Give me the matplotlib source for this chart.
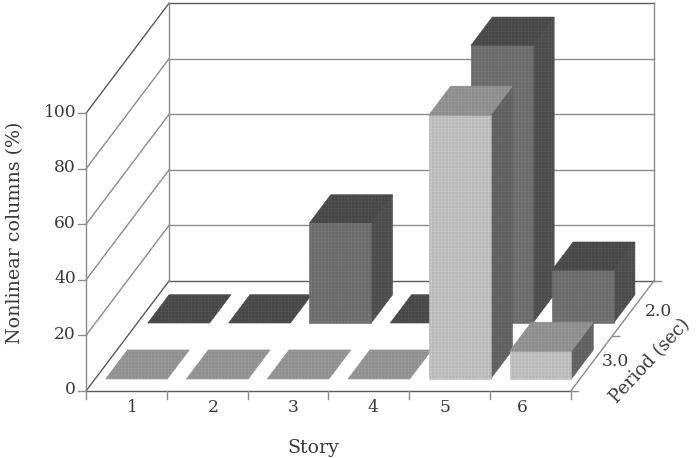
import matplotlib
matplotlib.use("Agg")
import matplotlib.pyplot as plt
from matplotlib.patches import Polygon

plt.rcParams['font.family'] = ['DejaVu Serif']
plt.rcParams['hatch.linewidth'] = 0.35

stories = [1, 2, 3, 4, 5, 6]
period_3 = [0, 0, 0, 0, 95, 10]
period_2 = [0, 0, 36, 0, 100, 19]
y_ticks = [0, 20, 40, 60, 80, 100]
period_labels = ["3.0", "2.0"]

# oblique projection: story / percent / depth to page coordinates
X0, Y0 = 86.0, 391.0
STORY_W = 80.8
PCT_H = 2.777
DEPTH_X, DEPTH_Y = 83.0, 110.0
TXT = '#3a3a3a'
FS = 12.3
FS_LABEL = 13.7


def proj(s, v, d):
    return (X0 + s * STORY_W + d * DEPTH_X, Y0 - v * PCT_H - d * DEPTH_Y)


def face(ax, pts, color, hatch_color, z=3):
    ax.add_patch(Polygon(pts, closed=True, facecolor=color, edgecolor=color, linewidth=0.4, zorder=z))
    ax.add_patch(Polygon(pts, closed=True, facecolor='none', edgecolor=hatch_color,
                         linewidth=0, hatch='+++++', zorder=z))


def bar3d(ax, i, val, d0, d1, front, top, side):
    s0, s1 = i + 0.13, i + 0.895
    if val > 0:
        face(ax, [proj(s1, 0, d0), proj(s1, 0, d1), proj(s1, val, d1), proj(s1, val, d0)], side[0], side[1])
        face(ax, [proj(s0, 0, d0), proj(s1, 0, d0), proj(s1, val, d0), proj(s0, val, d0)], front[0], front[1])
    face(ax, [proj(s0, val, d0), proj(s1, val, d0), proj(s1, val, d1), proj(s0, val, d1)], top[0], top[1])


fig = plt.figure(figsize=(6.97, 4.58), dpi=100)
ax = fig.add_axes([0, 0, 1, 1])
ax.set_xlim(0, 697)
ax.set_ylim(458, 0)
ax.axis('off')

grid = '#8c8c8c'
dark = '#5a5a5a'
n = len(stories)

# walls
for v in y_ticks:
    c = dark if v in (0, 100) else grid
    ax.plot(*zip(proj(0, v, 0), proj(0, v, 1)), color=c, lw=1.0, zorder=1)
    ax.plot(*zip(proj(0, v, 1), proj(n, v, 1)), color=c, lw=1.0, zorder=1)
    ax.plot(*zip(proj(0, v, 0), (proj(0, v, 0)[0] - 8, proj(0, v, 0)[1])), color=grid, lw=1.0, zorder=1)
    ax.text(76, proj(0, v, 0)[1] - 1, str(v), ha='right', va='center', fontsize=FS, color=TXT)
ax.plot(*zip(proj(0, 0, 0), proj(0, 100, 0)), color=grid, lw=1.0, zorder=1)
ax.plot(*zip(proj(0, 0, 1), proj(0, 100, 1)), color=grid, lw=1.0, zorder=1)
ax.plot(*zip(proj(n, 0, 1), proj(n, 100, 1)), color=grid, lw=1.0, zorder=1)

# floor edges and ticks
ax.plot(*zip(proj(0, 0, 0), proj(n, 0, 0)), color=dark, lw=1.0, zorder=1)
ax.plot(*zip(proj(n, 0, 0), proj(n, 0, 1)), color=grid, lw=1.0, zorder=1)
for i in range(n + 1):
    x, y = proj(i, 0, 0)
    ax.plot([x, x], [y, y + 8], color=grid, lw=1.0, zorder=1)
for d in [0, 0.5, 1]:
    x, y = proj(n, 0, d)
    ax.plot([x, x + 7], [y, y], color=grid, lw=1.0, zorder=1)

# back row first, front row painted over it
for i, val in enumerate(period_2):
    bar3d(ax, i, val, 0.618, 0.875, ('#6a6a6a', '#7c7c7c'), ('#474747', '#565656'), ('#4c4c4c', '#5c5c5c'))
for i, val in enumerate(period_3):
    top = ('#8c8c8c', '#9e9e9e') if val else ('#8e8e8e', '#a2a2a2')
    bar3d(ax, i, val, 0.109, 0.373, ('#b8b8b8', '#cfcfcf'), top, ('#606060', '#707070'))

# tick labels
label_x = [132, 213, 293, 373, 445, 522]
for s, x in zip(stories, label_x):
    ax.text(x, 408, str(s), ha='center', va='center', fontsize=FS, color=TXT)
ax.text(658, 312, period_labels[1], ha='center', va='center', fontsize=FS, color=TXT)
ax.text(615, 362, period_labels[0], ha='center', va='center', fontsize=FS, color=TXT)

ax.text(15, 233, "Nonlinear columns (%)", rotation=90, ha='center', va='center', fontsize=FS_LABEL, color=TXT)
ax.text(313, 448, "Story", ha='center', va='center', fontsize=FS_LABEL, color=TXT)
ax.text(650, 361, "Period (sec)", rotation=47, ha='center', va='center', rotation_mode='anchor',
        fontsize=13, color=TXT)

fig.savefig("out.png", dpi=100)
